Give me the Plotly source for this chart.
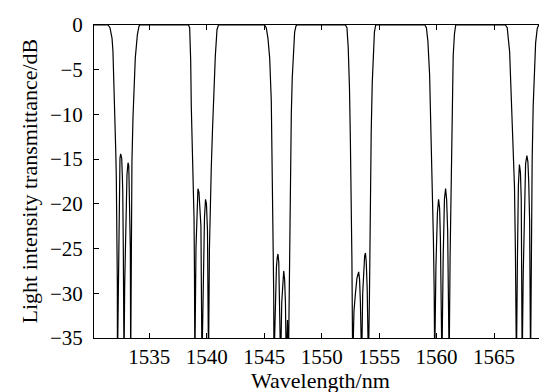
import plotly.graph_objects as go

# Wavelength (nm) and transmittance (dB), notch by notch
wl_n1 = [1531.42, 1531.59, 1531.77, 1531.85, 1531.94, 1532.00, 1532.09, 1532.14, 1532.20, 1532.23, 1532.24,
         1532.35, 1532.40, 1532.46, 1532.52, 1532.61, 1532.66, 1532.70, 1532.75, 1532.81,
         1532.87, 1532.98, 1533.07, 1533.16, 1533.22, 1533.24, 1533.30, 1533.36, 1533.39,
         1533.44, 1533.50, 1533.59, 1533.68, 1533.79, 1533.97, 1534.11, 1534.20]
db_n1 = [0, -0.3, -1.5, -3, -6.5, -10.4, -14, -17, -21.6, -29, -38,
         -21.6, -17, -14.9, -14.4, -14.9, -16.7, -18.6, -25, -38,
         -29, -20, -16.7, -15.4, -15.7, -16.7, -20, -25, -38,
         -20, -15.3, -10.4, -6.7, -3.7, -1.1, -0.15, 0]

wl_n2 = [1538.42, 1538.52, 1538.61, 1538.66, 1538.77, 1538.83, 1538.90, 1538.94, 1538.97,
         1539.07, 1539.16, 1539.24, 1539.33, 1539.42, 1539.50, 1539.59,
         1539.72, 1539.81, 1539.90, 1539.98, 1540.07, 1540.16,
         1540.24, 1540.31, 1540.40, 1540.50, 1540.61, 1540.75, 1540.90, 1541.03]
db_n2 = [0, -0.3, -4, -9, -14, -17.5, -21.6, -28, -38,
         -25, -20, -18.3, -18.7, -20.5, -22.5, -38,
         -27, -21.5, -19.5, -20, -23, -38,
         -25, -20, -16, -12, -8, -3.5, -0.5, 0]

wl_n3 = [1545.03, 1545.18, 1545.33, 1545.48, 1545.62, 1545.70, 1545.77, 1545.83, 1545.85,
         1545.97, 1546.07, 1546.14, 1546.20, 1546.27, 1546.33, 1546.43,
         1546.53, 1546.62, 1546.70, 1546.78, 1546.85, 1546.92, 1547.03, 1547.11,
         1547.20, 1547.29, 1547.36, 1547.44, 1547.53, 1547.65, 1547.77, 1547.85]
db_n3 = [0, -0.3, -1.5, -3.7, -8.5, -15, -23, -30, -38,
         -30, -27, -26, -25.6, -26.5, -29, -38,
         -31, -28.2, -27.5, -28.5, -31, -38, -33, -38,
         -25, -16, -10, -6, -3, -0.8, -0.1, 0]

wl_n4 = [1552.07, 1552.20, 1552.31, 1552.42, 1552.50, 1552.57, 1552.63, 1552.70,
         1552.81, 1552.94, 1553.07, 1553.22, 1553.30, 1553.37, 1553.48,
         1553.57, 1553.66, 1553.74, 1553.81, 1553.88, 1553.96, 1554.07,
         1554.16, 1554.23, 1554.31, 1554.40, 1554.49, 1554.59, 1554.70]
db_n4 = [0, -0.3, -2.5, -7, -13, -19, -26, -38,
         -32, -30, -28.3, -27.6, -28.5, -31, -38,
         -30, -27, -25.8, -25.5, -26.5, -29.5, -38,
         -30, -20, -12, -6.5, -3, -0.8, 0]

wl_n5 = [1558.98, 1559.11, 1559.24, 1559.39, 1559.53, 1559.64, 1559.72, 1559.79, 1559.83,
         1559.94, 1560.07, 1560.17, 1560.26, 1560.33, 1560.40, 1560.46,
         1560.57, 1560.68, 1560.78, 1560.87, 1560.96, 1561.03, 1561.09,
         1561.17, 1561.27, 1561.36, 1561.44, 1561.55, 1561.66]
db_n5 = [0, -0.3, -1.8, -5.6, -13, -18, -24, -30, -38,
         -27, -21, -19.5, -20.5, -24, -28, -38,
         -26, -19.5, -18.3, -19.5, -23, -28, -38,
         -26, -15.5, -8, -3.5, -1, 0]

wl_n6 = [1565.98, 1566.14, 1566.35, 1566.49, 1566.64, 1566.77, 1566.85, 1566.91, 1566.94,
         1567.03, 1567.11, 1567.20, 1567.29, 1567.36, 1567.44,
         1567.53, 1567.64, 1567.74, 1567.85, 1567.94, 1568.01, 1568.09, 1568.17,
         1568.23, 1568.31, 1568.40, 1568.49, 1568.61, 1568.75, 1568.87]
db_n6 = [0, -0.3, -3, -7.5, -13.5, -18, -25, -31, -38,
         -26, -18, -15.6, -16.5, -19.5, -38,
         -28, -20, -15.5, -14.6, -15.3, -17.5, -22, -38,
         -26, -15, -9, -5, -2, -0.4, 0]

x_start, x_end = 1530.2, 1569.6
wavelength = [x_start] + wl_n1 + wl_n2 + wl_n3 + wl_n4 + wl_n5 + wl_n6 + [x_end]
transmittance = [0] + db_n1 + db_n2 + db_n3 + db_n4 + db_n5 + db_n6 + [0]

x_ticks = [1535, 1540, 1545, 1550, 1555, 1560, 1565]
y_ticks = [0, -5, -10, -15, -20, -25, -30, -35]
x_title = "Wavelength/nm"
y_title = "Light intensity transmittance/dB"

FONT = "Liberation Serif, Times New Roman, serif"
FS_TICK = 21
FS_TITLE = 22

fig = go.Figure()
fig.add_trace(go.Scatter(x=wavelength, y=transmittance, mode="lines",
                         line=dict(color="black", width=1.2), showlegend=False))

axis_common = dict(showline=True, linecolor="black", linewidth=1, mirror="ticks",
                   ticks="inside", ticklen=5, tickwidth=1, tickcolor="black",
                   showgrid=False, zeroline=False, automargin=False,
                   tickfont=dict(family=FONT, size=FS_TICK, color="black"))

fig.update_xaxes(range=[x_start, x_end], tickvals=x_ticks, ticklabelstandoff=0, **axis_common)
fig.update_yaxes(range=[-35, 0], tickvals=y_ticks, ticklabelstandoff=6, **axis_common)

fig.add_annotation(text=x_title, xref="paper", yref="paper", x=0.5, y=0,
                   xanchor="center", yanchor="middle", yshift=-42, showarrow=False,
                   font=dict(family=FONT, size=FS_TITLE, color="black"))
fig.add_annotation(text=y_title, xref="paper", yref="paper", x=0, y=0.5,
                   xanchor="center", yanchor="middle", xshift=-65, textangle=-90, showarrow=False,
                   font=dict(family=FONT, size=FS_TITLE, color="black"))

fig.update_layout(width=547, height=392, margin=dict(l=86, r=8, t=17, b=62),
                  paper_bgcolor="white", plot_bgcolor="white",
                  font=dict(family=FONT, color="black"))

fig.write_html("out.html")
